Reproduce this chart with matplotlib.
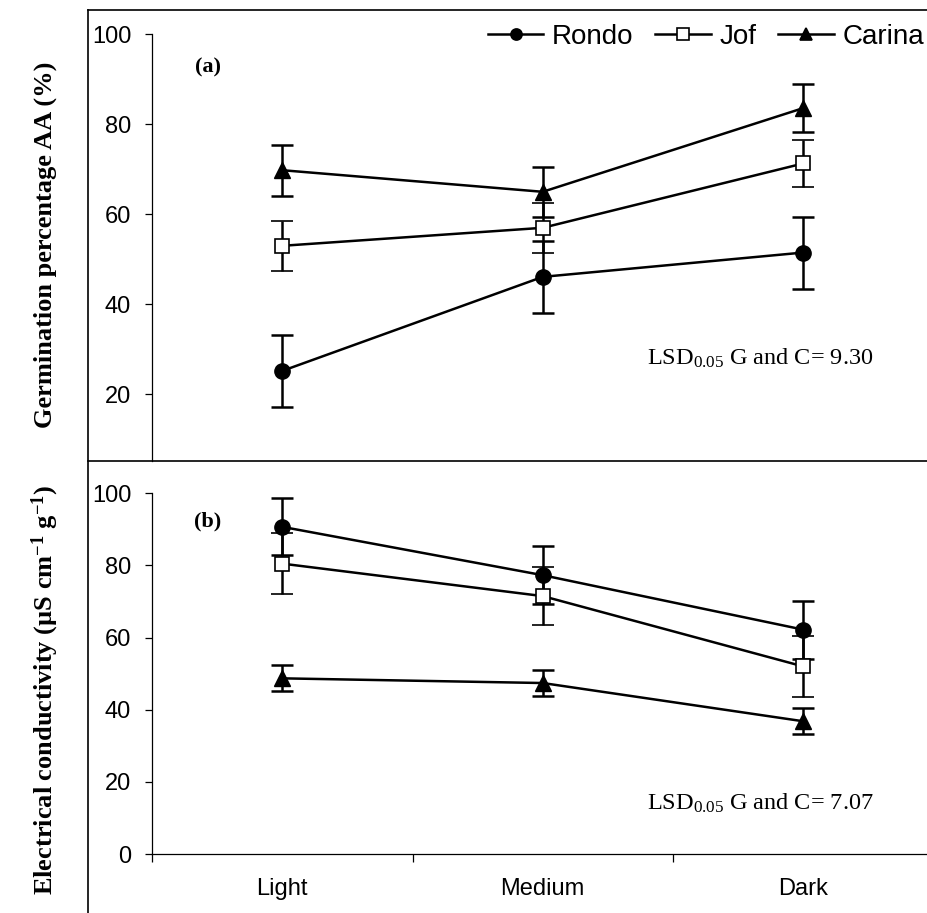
import matplotlib
matplotlib.use("Agg")
import matplotlib.pyplot as plt
from matplotlib.lines import Line2D

plt.rcParams["font.family"] = ["Liberation Sans", "DejaVu Sans"]
plt.rcParams["mathtext.fontset"] = "custom"
plt.rcParams["mathtext.rm"] = "Liberation Serif"
plt.rcParams["mathtext.bf"] = "Liberation Serif:bold"
plt.rcParams["mathtext.it"] = "Liberation Serif:italic"

categories = ["Light", "Medium", "Dark"]
series = ["Rondo", "Jof", "Carina"]

# panel (a) germination percentage
germ_rondo = [25.2, 46.1, 51.5]
germ_jof = [53.0, 57.0, 71.3]
germ_carina = [69.8, 65.0, 83.6]
germ_err_rondo = [8.0, 8.0, 8.0]
germ_err_jof = [5.5, 5.5, 5.3]
germ_err_carina = [5.7, 5.5, 5.4]

# panel (b) electrical conductivity
ec_rondo = [90.7, 77.3, 62.2]
ec_jof = [80.5, 71.5, 52.0]
ec_carina = [48.7, 47.4, 36.8]
ec_err_rondo = [7.9, 8.0, 8.0]
ec_err_jof = [8.5, 8.0, 8.5]
ec_err_carina = [3.6, 3.6, 3.6]

styles = {
    "Rondo": dict(marker="o", mfc="black", mec="black", ms=11),
    "Jof": dict(marker="s", mfc="white", mec="black", ms=10, mew=1.2),
    "Carina": dict(marker="^", mfc="black", mec="black", ms=12),
}

W, H = 927, 913
fig = plt.figure(figsize=(W / 100, H / 100), dpi=100)

def fx(px):
    return px / W

def fy(py):
    return 1 - py / H

x = list(range(len(categories)))
left = fx(152)
width = fx(933.5) - left

ax1 = fig.add_axes([left, fy(461), width, fy(34.3) - fy(461)])
ax2 = fig.add_axes([left, fy(854), width, fy(493.3) - fy(854)])

def draw(ax, data):
    for name, vals, errs in data:
        st = styles[name]
        ax.errorbar(x, vals, yerr=errs, color="black", lw=1.8, elinewidth=1.8,
                    capsize=8, capthick=1.8, label=name, zorder=3, **st)
    ax.set_xlim(-0.5, 2.5)
    for s in ["top", "right"]:
        ax.spines[s].set_visible(False)
    ax.spines["left"].set_linewidth(0.9)
    ax.spines["bottom"].set_linewidth(0.9)
    ax.tick_params(axis="y", direction="out", length=5, width=0.9, pad=10,
                   labelsize=17)
    ax.set_yticks([0, 20, 40, 60, 80, 100])

draw(ax1, [("Rondo", germ_rondo, germ_err_rondo),
           ("Jof", germ_jof, germ_err_jof),
           ("Carina", germ_carina, germ_err_carina)])
ax1.set_ylim(100 - (461 - 34.3) / 4.5, 100)
ax1.spines["bottom"].set_visible(False)
ax1.set_xticks([])
for c in ax1.get_children():
    if hasattr(c, "set_clip_on"):
        c.set_clip_on(False)

draw(ax2, [("Rondo", ec_rondo, ec_err_rondo),
           ("Jof", ec_jof, ec_err_jof),
           ("Carina", ec_carina, ec_err_carina)])
ax2.set_ylim(0, 100)
ax2.set_xticks(x)
ax2.set_xticklabels(categories, fontsize=17)
ax2.set_xticks([-0.5, 0.5, 1.5, 2.5], minor=True)
ax2.tick_params(axis="x", which="major", length=0, pad=17)
ax2.tick_params(axis="x", which="minor", direction="out", length=6, width=0.9)

# panel labels and LSD notes
fig.text(fx(208), fy(67), "(a)", fontsize=16, fontweight="bold",
         family="Liberation Serif", ha="center", va="center")
fig.text(fx(208), fy(521), "(b)", fontsize=16, fontweight="bold",
         family="Liberation Serif", ha="center", va="center")
fig.text(fx(647), fy(358), r"LSD$_{0.05}$ G and C= 9.30",
         fontsize=17.5, family="Liberation Serif", va="center")
fig.text(fx(647), fy(803), r"LSD$_{0.05}$ G and C= 7.07",
         fontsize=17.5, family="Liberation Serif", va="center")

# y labels
fig.text(fx(45), fy(245), "Germination percentage AA (%)", rotation=90,
         fontsize=19, fontweight="bold", family="Liberation Serif",
         ha="center", va="center")
fig.text(fx(45), fy(690),
         r"Electrical conductivity (µS cm$^{\mathbf{-1}}$ g$^{\mathbf{-1}}$)",
         rotation=90, fontsize=19, fontweight="bold", family="Liberation Serif",
         ha="center", va="center")

# legend
handles = [Line2D([], [], color="black", lw=1.8, marker=styles[n]["marker"],
                  mfc=styles[n]["mfc"], mec="black", ms=8, mew=1.2) for n in series]
fig.legend(handles, series, loc="center right", bbox_to_anchor=(fx(924), fy(37)),
           ncol=3, frameon=False, fontsize=20, handlelength=2.0,
           handletextpad=0.3, columnspacing=0.8, borderaxespad=0, borderpad=0)

# outer chart frame
for line in [
    Line2D([fx(88), fx(88)], [fy(10), 0], lw=1.2, color="black"),
    Line2D([fx(88), 1], [fy(10), fy(10)], lw=1.2, color="black"),
    Line2D([fx(88), 1], [fy(461), fy(461)], lw=1.2, color="black"),
]:
    fig.add_artist(line)

fig.savefig("out.png", dpi=100)
